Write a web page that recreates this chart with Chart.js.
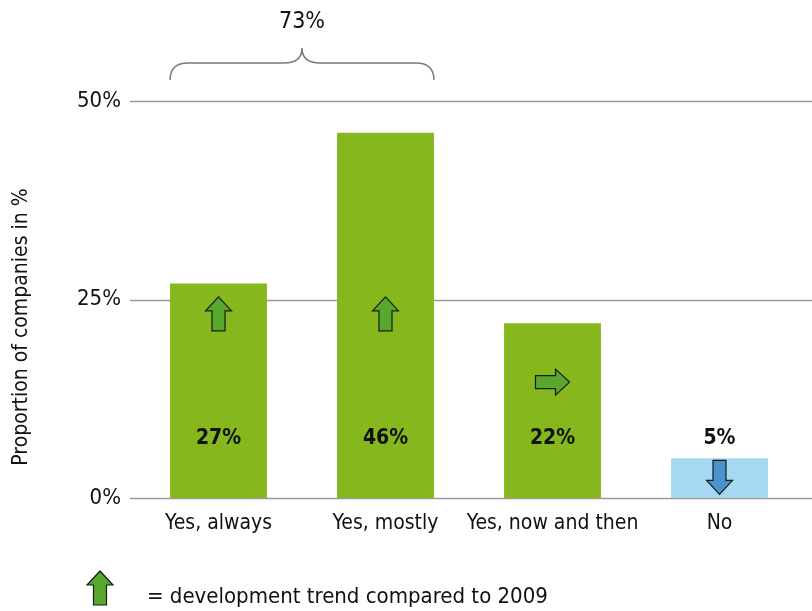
<!DOCTYPE html>
<html>
<head>
<meta charset="utf-8">
<script src="https://cdn.jsdelivr.net/npm/chart.js@4/dist/chart.umd.min.js"></script>
<style>
  html, body { margin: 0; padding: 0; background: #fff; }
  #wrap { width: 812px; height: 611px; }
</style>
</head>
<body>
<div id="wrap"><canvas id="chart" width="812" height="611"></canvas></div>
<script>
const categories = ["Yes, always", "Yes, mostly", "Yes, now and then", "No"];
const shares = [27, 46, 22, 5];
const trends = ["up", "up", "right", "down"];
const yTicks = [0, 25, 50];

const FONT = "'Liberation Sans Narrow', 'DejaVu Sans Condensed', sans-serif";
const green = "#86b71c";
const lightBlue = "#a5d9f1";
const arrowGreen = "#57a82d";
const arrowBlue = "#4a94cd";
const gridColor = "#9a9a9a";

// vertical spot (in % units) where each trend arrow sits
const arrowLevel = { up: 23.2, right: 14.6, down: 2.6 };

function drawArrow(ctx, cx, cy, dir, fill) {
  const len = 34, headW = 26, shaftW = 13, headL = 14;
  const angle = { up: 0, right: Math.PI / 2, down: Math.PI }[dir];
  ctx.save();
  ctx.translate(cx, cy);
  ctx.rotate(angle);
  ctx.beginPath();
  ctx.moveTo(0, -len / 2);
  ctx.lineTo(headW / 2, -len / 2 + headL);
  ctx.lineTo(shaftW / 2, -len / 2 + headL);
  ctx.lineTo(shaftW / 2, len / 2);
  ctx.lineTo(-shaftW / 2, len / 2);
  ctx.lineTo(-shaftW / 2, -len / 2 + headL);
  ctx.lineTo(-headW / 2, -len / 2 + headL);
  ctx.closePath();
  ctx.fillStyle = fill;
  ctx.fill();
  ctx.lineWidth = 1.2;
  ctx.strokeStyle = "#1a1a1a";
  ctx.stroke();
  ctx.restore();
}

// horizontal guide lines run past the plot edges
const gridPlugin = {
  id: "wideGrid",
  beforeDatasetsDraw(chart) {
    const { ctx, scales: { y } } = chart;
    ctx.save();
    ctx.strokeStyle = gridColor;
    ctx.lineWidth = 1.5;
    yTicks.forEach(v => {
      const py = Math.round(y.getPixelForValue(v)) + 0.5;
      ctx.beginPath();
      ctx.moveTo(130, py);
      ctx.lineTo(chart.width, py);
      ctx.stroke();
    });
    ctx.restore();
  }
};

const decorPlugin = {
  id: "decor",
  afterDatasetsDraw(chart) {
    const { ctx, scales: { y } } = chart;
    const bars = chart.getDatasetMeta(0).data;

    // value labels and trend arrows
    ctx.save();
    ctx.font = "bold 21px " + FONT;
    ctx.fillStyle = "#111";
    ctx.textAlign = "center";
    ctx.textBaseline = "middle";
    bars.forEach((bar, i) => {
      ctx.fillText(shares[i] + "%", bar.x, y.getPixelForValue(7.5));
      const t = trends[i];
      drawArrow(ctx, bar.x, y.getPixelForValue(arrowLevel[t]), t, t === "down" ? arrowBlue : arrowGreen);
    });

    // brace over the two "yes" answers with their total
    const x0 = bars[0].x - bars[0].width / 2;
    const x1 = bars[1].x + bars[1].width / 2;
    const xm = (x0 + x1) / 2;
    const yEnd = 80, yMid = 63, yTip = 48, r = 18;
    ctx.beginPath();
    ctx.moveTo(x0, yEnd);
    ctx.quadraticCurveTo(x0, yMid, x0 + r, yMid);
    ctx.lineTo(xm - r, yMid);
    ctx.quadraticCurveTo(xm, yMid, xm, yTip);
    ctx.quadraticCurveTo(xm, yMid, xm + r, yMid);
    ctx.lineTo(x1 - r, yMid);
    ctx.quadraticCurveTo(x1, yMid, x1, yEnd);
    ctx.strokeStyle = "#7a7a7a";
    ctx.lineWidth = 1.5;
    ctx.stroke();

    ctx.font = "23px " + FONT;
    ctx.fillStyle = "#111";
    ctx.fillText((shares[0] + shares[1]) + "%", xm, 22);

    // y axis title
    ctx.save();
    ctx.translate(22, 327);
    ctx.rotate(-Math.PI / 2);
    ctx.font = "21px " + FONT;
    ctx.fillText("Proportion of companies in %", 0, 0);
    ctx.restore();

    // key for the arrows
    drawArrow(ctx, 100, 588, "up", arrowGreen);
    ctx.textAlign = "left";
    ctx.font = "22px " + FONT;
    ctx.fillText("= development trend compared to 2009", 147, 597);
    ctx.restore();
  }
};

new Chart(document.getElementById("chart"), {
  type: "bar",
  data: {
    labels: categories,
    datasets: [{
      data: shares,
      backgroundColor: categories.map((c, i) => i === 3 ? lightBlue : green),
      borderWidth: 0,
      barPercentage: 0.58,
      categoryPercentage: 1
    }]
  },
  options: {
    responsive: false,
    animation: false,
    layout: { padding: { top: 101, right: 9, left: 0, bottom: 0 } },
    plugins: {
      legend: { display: false },
      tooltip: { enabled: false }
    },
    scales: {
      x: {
        grid: { display: false, drawTicks: false },
        border: { display: false },
        ticks: {
          color: "#111",
          padding: 13,
          maxRotation: 0,
          minRotation: 0,
          autoSkip: false,
          font: { family: FONT, size: 21 }
        },
        afterFit(axis) { axis.height = 113; }
      },
      y: {
        min: 0,
        max: 50,
        afterBuildTicks(axis) { axis.ticks = yTicks.map(v => ({ value: v })); },
        grid: { display: false, drawTicks: false },
        border: { display: false },
        ticks: {
          color: "#111",
          padding: 14,
          font: { family: FONT, size: 22 },
          callback: v => v + "%"
        },
        afterFit(axis) { axis.width = 135; }
      }
    }
  },
  plugins: [gridPlugin, decorPlugin]
});
</script>
</body>
</html>
